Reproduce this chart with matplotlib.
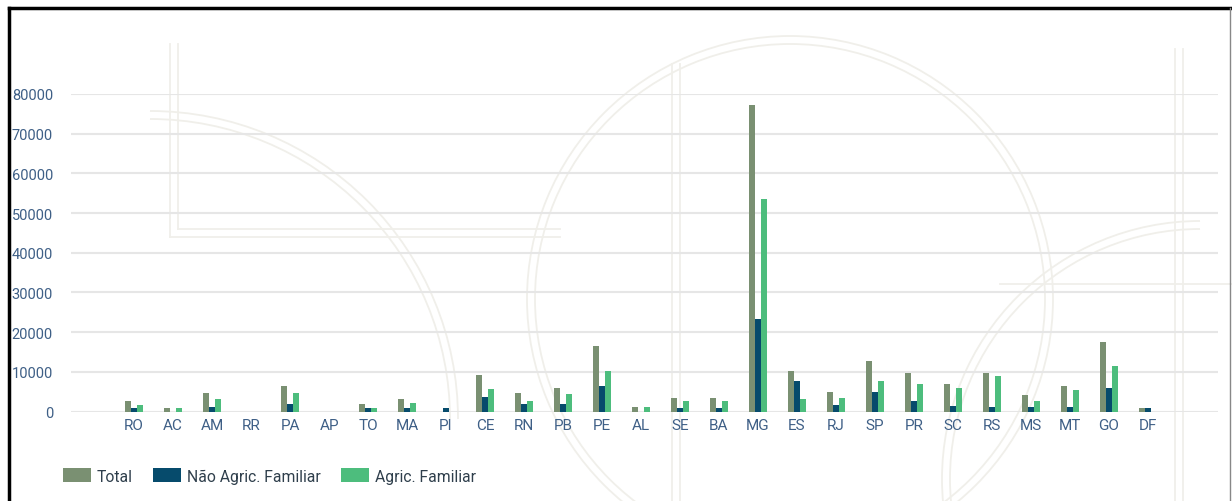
import matplotlib
matplotlib.use("Agg")
import matplotlib.pyplot as plt
import numpy as np
from matplotlib.patches import Arc
from matplotlib.lines import Line2D

plt.rcParams['font.family'] = ['Roboto', 'DejaVu Sans']

states = ["RO", "AC", "AM", "RR", "PA", "AP", "TO", "MA", "PI", "CE", "RN", "PB", "PE", "AL",
          "SE", "BA", "MG", "ES", "RJ", "SP", "PR", "SC", "RS", "MS", "MT", "GO", "DF"]
total = [2600, 900, 4600, 0, 6500, 0, 2000, 3100, 0, 9300, 4600, 5900, 16600, 1200,
         3400, 3400, 77300, 10300, 4800, 12600, 9800, 7000, 9800, 4200, 6500, 17600, 900]
nao_agric = [900, 0, 1100, 0, 2000, 0, 900, 900, 900, 3700, 2000, 2000, 6500, 0,
             900, 900, 23300, 7600, 1600, 4800, 2600, 1500, 1100, 1100, 1100, 5900, 900]
agric = [1700, 900, 3100, 0, 4600, 0, 900, 2100, 0, 5700, 2600, 4300, 10300, 1200,
         2600, 2600, 53600, 3100, 3400, 7800, 7000, 5900, 9000, 2600, 5300, 11500, 0]
series_names = ["Total", "Não Agric. Familiar", "Agric. Familiar"]
colors = ["#7a9072", "#064b6c", "#4dbd7d"]
yticks = [0, 10000, 20000, 30000, 40000, 50000, 60000, 70000, 80000]

fig = plt.figure(figsize=(12.32, 5.02), dpi=100)
fig.patch.set_facecolor("white")

# faint watermark decoration (figure pixel coordinates)
wm = "#f0efea"
lw = 1.3
bg = fig.add_axes([0, 0, 1, 1], zorder=0)
bg.set_xlim(0, 1232)
bg.set_ylim(502, 0)
bg.axis("off")
for xx in (170, 178):
    bg.plot([xx, xx], [45, 238 if xx == 170 else 230], color=wm, lw=lw)
for xx in (672, 680):
    bg.plot([xx, xx], [65, 502], color=wm, lw=lw)
for xx in (1175, 1183):
    bg.plot([xx, xx], [50, 502], color=wm, lw=lw)
bg.plot([170, 560], [238, 238], color=wm, lw=lw)
bg.plot([178, 560], [230, 230], color=wm, lw=lw)
bg.plot([1000, 1232], [285, 285], color=wm, lw=lw)
for r in (255, 263):
    bg.add_patch(Arc((790, 300), 2 * r, 2 * r, color=wm, lw=lw))
for r in (250, 258):
    bg.add_patch(Arc((1200, 480), 2 * r, 2 * r, theta1=90, theta2=270, color=wm, lw=lw))
for r in (300, 308):
    bg.add_patch(Arc((150, 420), 2 * r, 2 * r, theta1=270, theta2=360, color=wm, lw=lw))

ax = fig.add_axes([71 / 1232, (502 - 412.5) / 502, (1218 - 71) / 1232, (412.5 - 95) / 502], zorder=1)
ax.patch.set_alpha(0)

x = np.arange(len(states))
w = 0.153
for i, (vals, c, name) in enumerate(zip([total, nao_agric, agric], colors, series_names)):
    ax.bar(x + (i - 1) * w, vals, width=w, color=c, label=name, zorder=3)

ax.set_ylim(0, 80000)
ax.set_xlim(-1.62, 27.8)
ax.set_yticks(yticks)
ax.set_yticklabels([str(v) for v in yticks])
ax.set_xticks(x)
ax.set_xticklabels(states)
ax.grid(axis="y", color="#e6e6e6", lw=1.5, zorder=0)
ax.set_axisbelow(True)
for s in ax.spines.values():
    s.set_visible(False)
ax.tick_params(axis="both", length=0, labelcolor="#3e5f86")
ax.tick_params(axis="y", pad=13, labelsize=10.5)
ax.tick_params(axis="x", pad=5, labelsize=11)

handles, labels = ax.get_legend_handles_labels()
leg = fig.legend(handles, labels, loc="center left", bbox_to_anchor=(57 / 1232, 1 - 477 / 502),
                 ncol=3, frameon=False, fontsize=11.3, handlelength=1.75, handleheight=0.95,
                 handletextpad=0.4, columnspacing=1.3, borderaxespad=0)
for t in leg.get_texts():
    t.set_color("#2f3f4c")

# frame
fig.add_artist(Line2D([8.5 / 1232, 8.5 / 1232], [0, 1 - 8.5 / 502], color="black", lw=2.5))
fig.add_artist(Line2D([8.5 / 1232, 1229.5 / 1232], [1 - 8.5 / 502, 1 - 8.5 / 502], color="black", lw=2.5))
fig.add_artist(Line2D([1229.5 / 1232, 1229.5 / 1232], [0, 1 - 8.5 / 502], color="#888888", lw=1))

fig.savefig("out.png", dpi=100, facecolor="white")
